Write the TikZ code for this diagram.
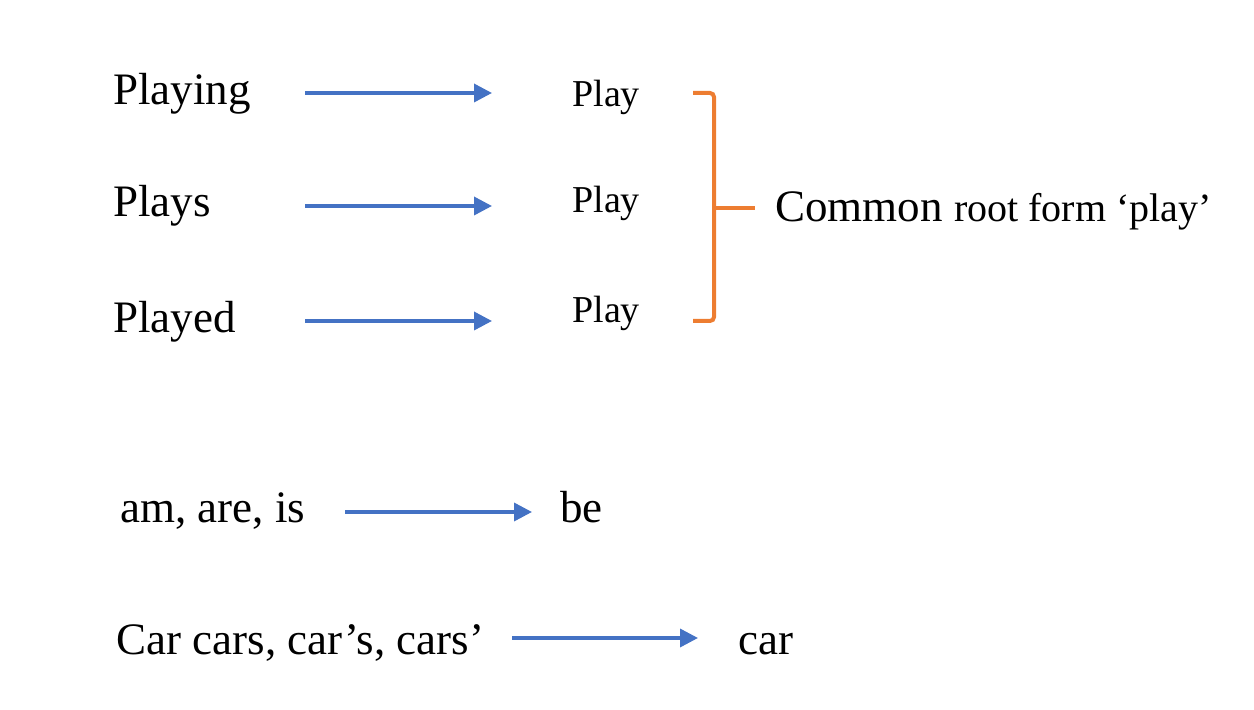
\documentclass[tikz,border=0pt]{standalone}
\usepackage{fontspec}
\setmainfont{Liberation Serif}
\newfontfamily\timesfont{Liberation Serif}
\usetikzlibrary{arrows.meta,positioning}
\definecolor{arrowblue}{RGB}{68,114,196}
\definecolor{braceorange}{RGB}{237,125,49}
\tikzset{
  >={Triangle[length=9pt,width=9pt]},
  word/.style={anchor=base west,inner sep=0pt,font=\timesfont\fontsize{22.5}{27}\selectfont},
  stem/.style={anchor=base west,inner sep=0pt,font=\timesfont\fontsize{19}{23}\selectfont},
  flow/.style={->,line width=1.75pt,draw=#1},
  flow/.default=arrowblue,
  bracket/.style={draw=braceorange,line width=2pt,rounded corners=2pt},
}

\begin{document}
\begin{tikzpicture}[x=0.5pt,y=-0.5pt]
  \useasboundingbox (0,0) rectangle (1254,710);
  % inflected forms of play
  \foreach \w/\yw/\ys/\ya [count=\i] in {Playing/105/107/93,Plays/217/213/206,Played/333/323/321}{
    \node[word] (form\i) at (113,\yw) {\w};
    \node[stem] (stem\i) at (572,\ys) {Play};
    \coordinate (from\i) at (305,\ya);
    \coordinate (to\i) at (492,\ya);
    \draw[flow] (from\i) -- (to\i);
  }
  % brace and its label
  \coordinate (brtop) at (693,93);
  \coordinate (brbot) at (693,321);
  \coordinate (brtick) at (714,208);
  \node[word] (common) at (775,222) {Common {\fontsize{20}{24}\selectfont root form ‘play’}};
  \draw[bracket] (brtop) -- ++(21,0) |- (brbot);
  \draw[bracket,shorten >=10pt] (brtick) -- (brtick -| common.west);
  % other examples
  \node[word] (be forms) at (120,523) {am, are, is};
  \node[word] (be) at (560,523) {be};
  \coordinate (befrom) at (345,512);
  \coordinate (beto) at (532,512);
  \draw[flow] (befrom) -- (beto);
  \node[word] (car forms) at (116,655) {Car cars, car’s, cars’};
  \node[word] (car) at (738,655) {car};
  \coordinate (carfrom) at (512,638);
  \coordinate (carto) at (698,638);
  \draw[flow] (carfrom) -- (carto);
\end{tikzpicture}
\end{document}
